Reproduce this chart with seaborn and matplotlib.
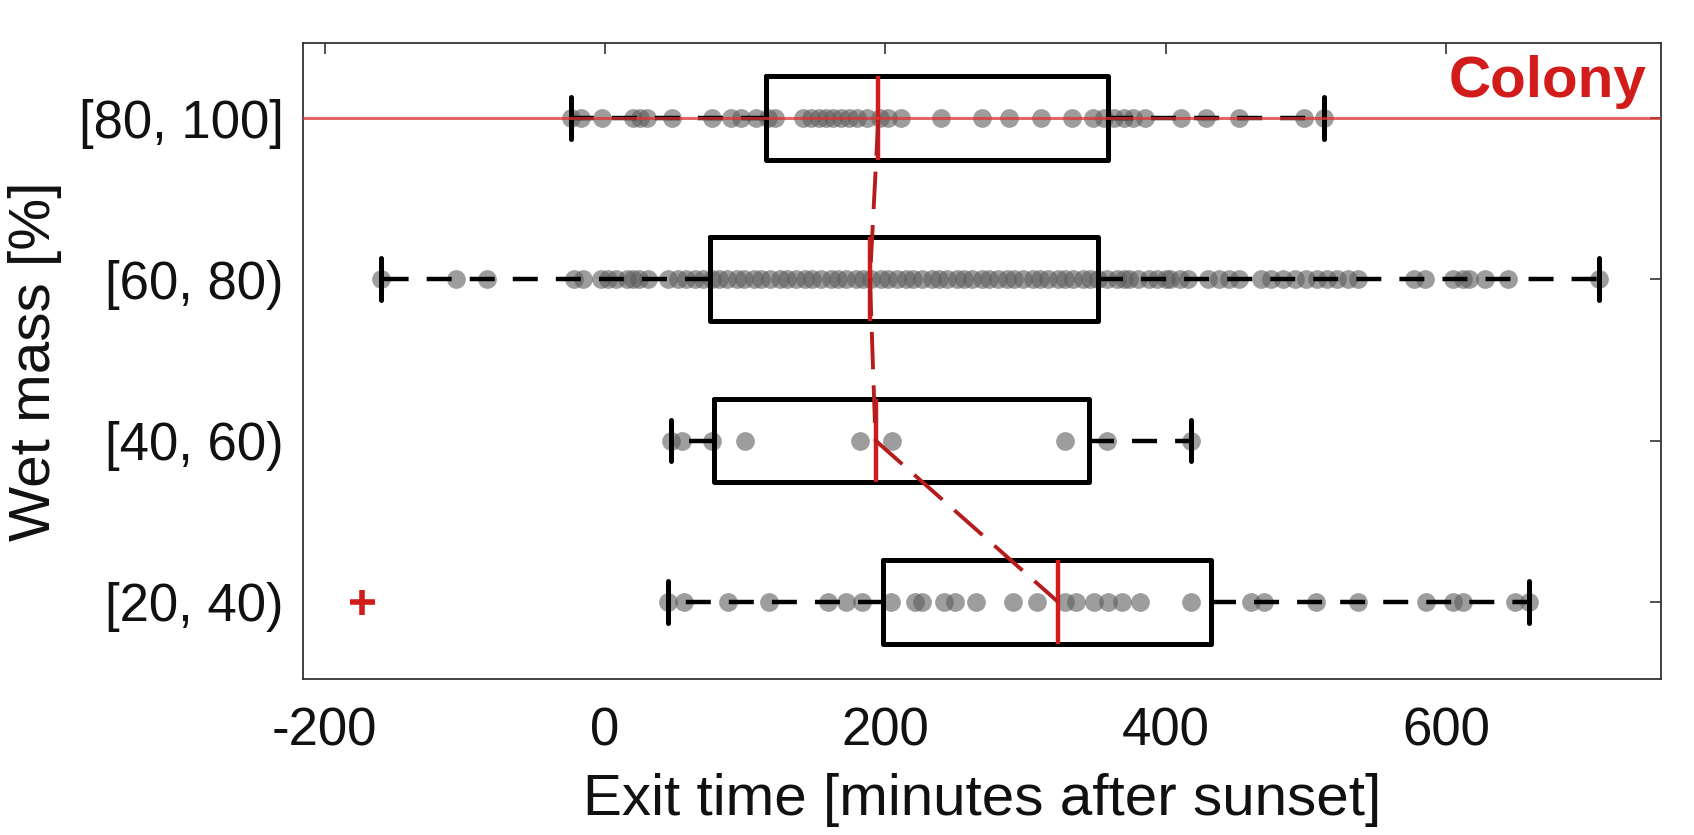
import matplotlib
matplotlib.use("Agg")
import matplotlib.pyplot as plt
import pandas as pd
import seaborn as sns

# wet-mass classes, top to bottom
groups = ["[80, 100]", "[60, 80)", "[40, 60)", "[20, 40)"]

# box statistics (minutes after sunset)
whis_lo = [-24, -160, 47, 45]
q1 = [115, 75, 78, 198]
median = [195, 189, 193, 323]
q3 = [359, 352, 345, 432]
whis_hi = [513, 709, 418, 659]
outliers = [[], [], [], [-173]]

# individual exit times (grey dots)
t_80_100 = [-24, -17, -2, 20, 25, 30, 48, 76, 90, 97, 108, 116, 121, 141, 147,
            153, 158, 163, 168, 174, 180, 187, 196, 202, 211, 240, 269, 288,
            311, 333, 348, 356, 363, 370, 377, 385, 411, 429, 452, 499, 513]
t_60_80 = [-160, -106, -84, -22, -16, -3, 2, 8, 16, 20, 24, 31, 45, 52, 58,
           64, 70, 76, 81, 87, 94, 99, 106, 111, 118, 125, 130, 136, 143, 148,
           154, 161, 166, 172, 179, 184, 190, 197, 202, 208, 215, 220, 226,
           233, 238, 244, 251, 256, 262, 269, 274, 280, 287, 292, 298, 305,
           310, 316, 323, 328, 334, 341, 346, 352, 358, 365, 370, 374, 380,
           388, 394, 400, 403, 410, 416, 430, 438, 445, 452, 468, 475, 484,
           492, 500, 508, 515, 522, 530, 537, 577, 585, 605, 612, 616, 628,
           644, 709]
t_40_60 = [47, 55, 76, 100, 182, 205, 328, 358, 418]
t_20_40 = [45, 56, 88, 117, 159, 172, 183, 204, 221, 226, 242, 250, 265, 291,
           308, 328, 336, 349, 359, 369, 382, 418, 461, 470, 507, 537, 586,
           605, 612, 649, 659]

sns.set_style("white")
plt.rcParams["font.family"] = ["Liberation Sans", "DejaVu Sans"]
plt.rcParams["lines.scale_dashes"] = False
plt.rcParams["axes.unicode_minus"] = False

red = "#d21c1c"

df = pd.DataFrame({
    "group": [groups[0]] * len(t_80_100) + [groups[1]] * len(t_60_80)
    + [groups[2]] * len(t_40_60) + [groups[3]] * len(t_20_40),
    "t": t_80_100 + t_60_80 + t_40_60 + t_20_40,
})

fig = plt.figure(figsize=(16.94, 8.35), dpi=100)
ax = fig.add_axes([0.1789, 0.1868, 0.8016, 0.7623])

sns.stripplot(data=df, x="t", y="group", order=groups, orient="h",
              jitter=False, color="#5c5c5c", alpha=0.6, size=13.5,
              linewidth=0, ax=ax, zorder=1)

stats = []
for i, g in enumerate(groups):
    stats.append(dict(label=g, whislo=whis_lo[i], q1=q1[i], med=median[i],
                      q3=q3[i], whishi=whis_hi[i], fliers=outliers[i]))

ax.bxp(stats, positions=range(len(groups)), widths=0.52,
       orientation="horizontal", manage_ticks=False, zorder=3,
       boxprops=dict(color="black", linewidth=3.6),
       whiskerprops=dict(color="black", linewidth=3.2, linestyle=(0, (18, 13))),
       capprops=dict(color="black", linewidth=3.6),
       medianprops=dict(color=red, linewidth=3.2),
       flierprops=dict(marker="+", markeredgecolor=red, markersize=18,
                       markeredgewidth=4))

# dashed line joining the medians
ax.plot(median, range(len(groups)), color="#b51d1d", linewidth=2.8,
        linestyle=(0, (27, 11.5)), zorder=4)

# colony reference
ax.axhline(0, color="#dd3333", linewidth=2.2, alpha=0.75, zorder=5)
ax.text(0.9897, 0.915, "Colony", transform=ax.transAxes, ha="right",
        va="baseline", color=red, fontsize=42, fontweight="bold")

ax.set_xlim(-215.4, 753.3)
ax.set_ylim(3.48, -0.47)
ax.set_xticks([-200, 0, 200, 400, 600])
ax.set_yticks(range(len(groups)))
ax.set_yticklabels(groups)

ax.tick_params(direction="in", length=8, width=1.2, top=True, right=True,
               labelsize=38, colors="#333333", labelcolor="#111111")
ax.tick_params(axis="x", pad=20)
ax.tick_params(axis="y", pad=14)
for s in ax.spines.values():
    s.set_color("#333333")
    s.set_linewidth(1.3)

ax.set_xlabel("Exit time [minutes after sunset]", fontsize=42, labelpad=12,
              color="#111111")
ax.set_ylabel("Wet mass [%]", fontsize=42, labelpad=12, color="#111111")

fig.savefig("out.png", dpi=100)
plt.close(fig)
